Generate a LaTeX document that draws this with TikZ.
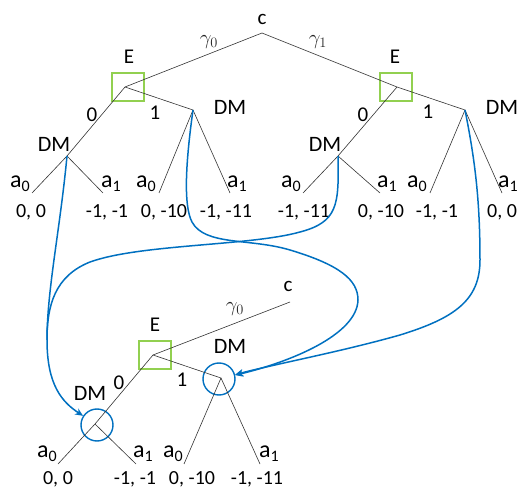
\documentclass[tikz,border=0pt]{standalone}
\usepackage{fontspec}
\setmainfont{Carlito}
\usetikzlibrary{arrows.meta}
\definecolor{lblue}{HTML}{0070C0}
\definecolor{lgreen}{HTML}{92D050}
\begin{document}
\begin{tikzpicture}[x=1pt,y=-1pt,
  edge/.style={draw=black!80, line width=0.6pt},
  lab/.style={font=\fontsize{21}{22}\selectfont, inner sep=0pt},
  dmlab/.style={font=\fontsize{22}{24}\selectfont, inner sep=0pt},
  alab/.style={font=\fontsize{24}{26}\selectfont, inner sep=0pt},
  pay/.style={font=\fontsize{20}{22}\selectfont, inner sep=0pt},
  glab/.style={font=\fontsize{22}{24}\selectfont, inner sep=0pt, text=black!85},
  ebox/.style={draw=lgreen, line width=1.3pt, minimum width=32pt, minimum height=28pt, inner sep=0pt},
  dmc/.style={circle, draw=lblue, line width=1.4pt, minimum size=32pt, inner sep=0pt},
  flow/.style={draw=lblue, line width=1.5pt},
  flowa/.style={flow, -{Stealth[length=8pt,width=7pt]}}]
\useasboundingbox (0,0) rectangle (520,489);
\newcommand{\asub}[1]{a\raisebox{-0.35ex}{\fontsize{16}{16}\selectfont #1}}
% ---------- top tree ----------
\coordinate (c) at (262,33);
\coordinate (E1) at (125,87);
\coordinate (E2) at (397,87);
\coordinate (D10) at (67,156);
\coordinate (D11) at (193,110);
\coordinate (D20) at (338,156);
\coordinate (D21) at (465,110);
\coordinate (L1) at (32,193);
\coordinate (L2) at (103,193);
\coordinate (L3) at (159,193);
\coordinate (L4) at (230,193);
\coordinate (L5) at (303,193);
\coordinate (L6) at (380,193);
\coordinate (L7) at (430,193);
\coordinate (L8) at (502,193);
\node[ebox] (B1) at (128,87) {};
\node[ebox] (B2) at (396,87) {};
\draw[edge] (c) -- (E1) -- (D10) -- (L1);
\draw[edge] (D10) -- (L2);
\draw[edge] (E1) -- (D11) -- (L3);
\draw[edge] (D11) -- (L4);
\draw[edge] (c) -- (E2) -- (D21) -- (L7);
\draw[edge] (D21) -- (L8);
\draw[edge] (E2) -- (D20) -- (L5);
\draw[edge] (D20) -- (L6);
\node[lab] (tc) at (262,19) {c};
\node[glab] (g0) at (209,42) {$\gamma_0$};
\node[glab] (g1) at (318,42) {$\gamma_1$};
\node[lab] (tE1) at (129,57) {E};
\node[lab] (tE2) at (395,57) {E};
\node[lab] (z1) at (92,115) {0};
\node[lab] (o1) at (155,113) {1};
\node[lab] (z2) at (363,115) {0};
\node[lab] (o2) at (428,112) {1};
\node[dmlab] (m1) at (54,144) {DM};
\node[dmlab] (m2) at (230,107) {DM};
\node[dmlab] (m3) at (325,144) {DM};
\node[dmlab] (m4) at (502,107) {DM};
\node[alab] (a1) at (20,184) {\asub{0}};
\node[alab] (a2) at (111,184) {\asub{1}};
\node[alab] (a3) at (146,184) {\asub{0}};
\node[alab] (a4) at (237,184) {\asub{1}};
\node[alab] (a5) at (291,184) {\asub{0}};
\node[alab] (a6) at (387,184) {\asub{1}};
\node[alab] (a7) at (417,184) {\asub{0}};
\node[alab] (a8) at (508,184) {\asub{1}};
\node[pay] (p1) at (31,212) {0, 0};
\node[pay] (p2) at (107,212) {-1, -1};
\node[pay] (p3) at (164,212) {0, -10};
\node[pay] (p4) at (226,212) {-1, -11};
\node[pay] (p5) at (304,212) {-1, -11};
\node[pay] (p6) at (381,212) {0, -10};
\node[pay] (p7) at (437,212) {-1, -1};
\node[pay] (p8) at (502,212) {0, 0};
% ---------- bottom tree ----------
\coordinate (c3) at (290,302);
\coordinate (E3) at (153,355);
\coordinate (D30) at (95,424);
\coordinate (D31) at (221,378);
\coordinate (M1) at (58,464);
\coordinate (M2) at (136,464);
\coordinate (M3) at (184,464);
\coordinate (M4) at (260,464);
\node[ebox] (B3) at (155,355) {};
\node[dmc] (C0) at (97,425) {};
\node[dmc] (C1) at (219,379) {};
\draw[edge] (c3) -- (E3) -- (D30) -- (M1);
\draw[edge] (D30) -- (M2);
\draw[edge] (E3) -- (D31) -- (M3);
\draw[edge] (D31) -- (M4);
\node[lab] (bc) at (288,286) {c};
\node[glab] (g2) at (235,309) {$\gamma_0$};
\node[lab] (bE) at (155,325) {E};
\node[lab] (z3) at (119,383) {0};
\node[lab] (o3) at (182,380) {1};
\node[dmlab] (m5) at (230,346) {DM};
\node[dmlab] (m6) at (90,393) {DM};
\node[alab] (a9) at (47,454) {\asub{0}};
\node[alab] (a10) at (143,454) {\asub{1}};
\node[alab] (a11) at (173,454) {\asub{0}};
\node[alab] (a12) at (269,454) {\asub{1}};
\node[pay] (q1) at (58,479) {0, 0};
\node[pay] (q2) at (135,479) {-1, -1};
\node[pay] (q3) at (192,479) {0, -10};
\node[pay] (q4) at (257,479) {-1, -11};
% ---------- blue links ----------
\coordinate (J) at (47,340);
\draw[flowa] (D10) .. controls (60,230) and (47,290) .. (J)
  .. controls (47,385) and (62,402) .. (C0);
\draw[flow] (D20) .. controls (339,205) and (338,222) .. (300,232)
  .. controls (250,246) and (140,244) .. (90,262)
  .. controls (55,276) and (47,305) .. (J);
\draw[flowa] (D11) .. controls (186,160) and (183,205) .. (192,222)
  .. controls (205,246) and (250,238) .. (290,250)
  .. controls (340,265) and (358,280) .. (358,300)
  .. controls (357,335) and (290,362) .. (C1);
\draw[flowa] (D21) .. controls (475,160) and (480,200) .. (480,260)
  .. controls (480,300) and (455,318) .. (400,335)
  .. controls (340,352) and (275,364) .. (C1);
\end{tikzpicture}
\end{document}
